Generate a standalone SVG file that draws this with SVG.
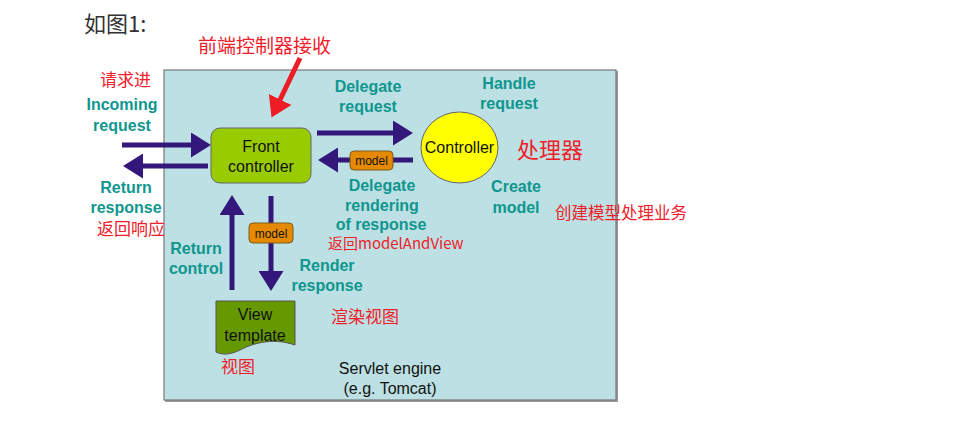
<svg xmlns="http://www.w3.org/2000/svg" width="966" height="440" viewBox="0 0 966 440">
<defs>
<style>
.t{font-family:"Liberation Sans",Arial,sans-serif;font-weight:bold;font-size:16px;fill:#0f9690;text-anchor:middle}
.r{font-family:"Noto Sans CJK SC","Liberation Sans",sans-serif;fill:#f0202a}
.b{font-family:"Liberation Sans",Arial,sans-serif;font-size:16px;fill:#111;text-anchor:middle}
.m{font-family:"Liberation Sans",Arial,sans-serif;font-size:12px;fill:#111;text-anchor:middle}
.ln{stroke:#33177a;stroke-width:5;fill:none}
.mb{fill:#e58a00;stroke:#7a5a20;stroke-width:1}
</style>
<marker id="ah" markerWidth="5" markerHeight="5" refX="1" refY="2.5" orient="auto" markerUnits="strokeWidth"><path d="M0,0 L4,2.5 L0,5 Z" fill="#33177a"/></marker>
<marker id="rh" markerWidth="5" markerHeight="5" refX="1" refY="2.5" orient="auto" markerUnits="strokeWidth"><path d="M0,0 L4,2.5 L0,5 Z" fill="#ee1c24"/></marker>
</defs>
<rect width="966" height="440" fill="#ffffff"/>
<text x="84" y="32" font-family="Noto Sans CJK SC,Liberation Sans,sans-serif" font-size="22" fill="#333">如图1:</text>

<g id="engine">
<rect x="165" y="71" width="453" height="331" fill="#333" opacity="0.5"/>
<rect x="164" y="70" width="452" height="330" fill="#bce0e3" stroke="#777" stroke-width="1.2"/>
<text class="b" x="390" y="374">Servlet engine</text>
<text class="b" x="390" y="394">(e.g. Tomcat)</text>
</g>

<g id="connectors">
<line class="ln" x1="122" y1="145" x2="196" y2="145" marker-end="url(#ah)"/>
<line class="ln" x1="208" y1="166" x2="138" y2="166" marker-end="url(#ah)"/>
<line class="ln" x1="317" y1="133" x2="398" y2="133" marker-end="url(#ah)"/>
<line class="ln" x1="413" y1="160" x2="333" y2="160" marker-end="url(#ah)"/>
<line class="ln" x1="232" y1="290" x2="232" y2="210" marker-end="url(#ah)"/>
<line class="ln" x1="271" y1="196" x2="271" y2="276" marker-end="url(#ah)"/>
<line x1="300" y1="58" x2="278" y2="104" stroke="#ee1c24" stroke-width="5" marker-end="url(#rh)"/>
</g>

<g id="model1">
<rect class="mb" x="350" y="151" width="43" height="19" rx="4"/>
<text class="m" x="371.5" y="165">model</text>
</g>
<g id="model2">
<rect class="mb" x="249" y="223" width="44" height="20" rx="4"/>
<text class="m" x="271" y="237.5">model</text>
</g>

<g id="front">
<rect x="211" y="128" width="100" height="55" rx="9" fill="#99cc00" stroke="#666" stroke-width="1"/>
<text class="b" x="261" y="152">Front</text>
<text class="b" x="261" y="172">controller</text>
</g>

<g id="controller">
<ellipse cx="459.5" cy="147.5" rx="38.5" ry="35.5" fill="#ffff00" stroke="#666" stroke-width="1"/>
<text class="b" x="459.5" y="153">Controller</text>
</g>

<g id="view">
<path d="M216,301 H295 V345 C275,338 255,342 240,350 C230,355 222,355 216,352 Z" fill="#669900" stroke="#555" stroke-width="1"/>
<text class="b" x="255" y="320">View</text>
<text class="b" x="255" y="341">template</text>
</g>

<g id="labels">
<text class="t" x="122" y="110">Incoming</text>
<text class="t" x="122" y="131">request</text>
<text class="t" x="126" y="193">Return</text>
<text class="t" x="126" y="213">response</text>
<text class="t" x="368" y="92">Delegate</text>
<text class="t" x="368" y="112">request</text>
<text class="t" x="509" y="89">Handle</text>
<text class="t" x="509" y="109">request</text>
<text class="t" x="382" y="191">Delegate</text>
<text class="t" x="382" y="211">rendering</text>
<text class="t" x="381" y="230">of response</text>
<text class="t" x="516" y="192">Create</text>
<text class="t" x="516" y="213">model</text>
<text class="t" x="196" y="254">Return</text>
<text class="t" x="196" y="274">control</text>
<text class="t" x="327" y="271">Render</text>
<text class="t" x="327" y="291">response</text>
</g>

<g id="notes">
<text class="r" x="198" y="53" font-size="19">前端控制器接收</text>
<text class="r" x="100" y="86" font-size="17">请求进</text>
<text class="r" x="97" y="235" font-size="17">返回响应</text>
<text class="r" x="328" y="249" font-size="15">返回modelAndView</text>
<text class="r" x="517" y="158" font-size="22">处理器</text>
<text class="r" x="555" y="219" font-size="16.5">创建模型处理业务</text>
<text class="r" x="331" y="323" font-size="17">渲染视图</text>
<text class="r" x="221" y="373" font-size="17">视图</text>
</g>
</svg>
